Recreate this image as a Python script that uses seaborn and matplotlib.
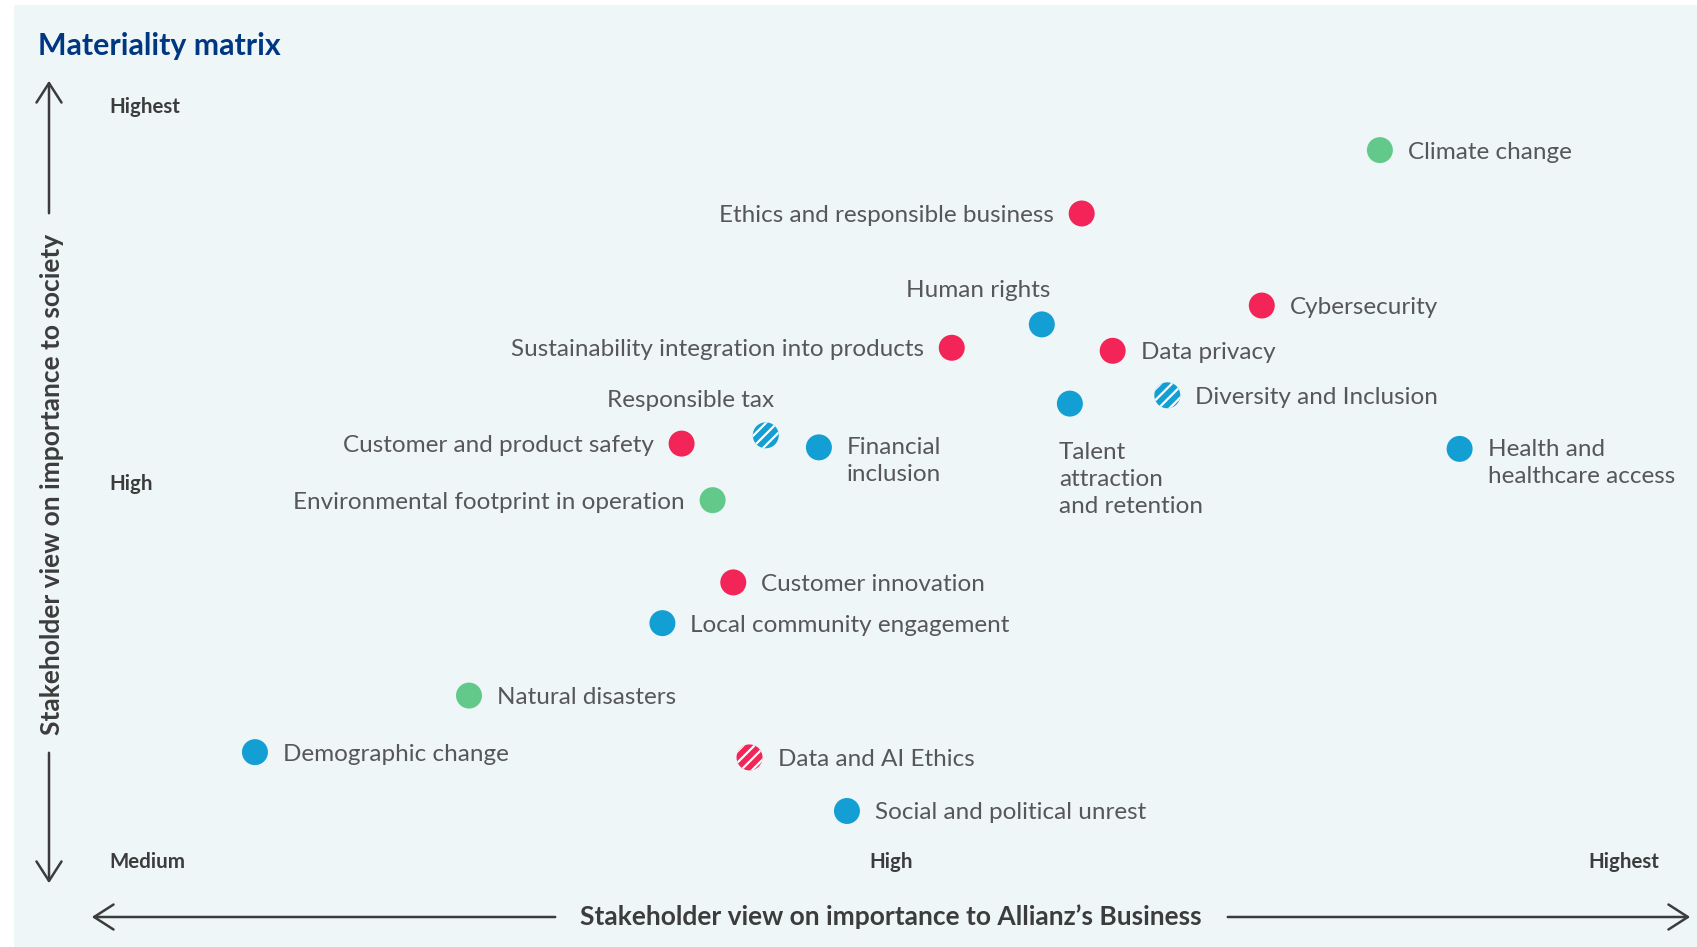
import matplotlib
matplotlib.use("Agg")
import matplotlib.pyplot as plt
import seaborn as sns
import pandas as pd

sns.set_style("white")
plt.rcParams["font.family"] = ["Lato", "DejaVu Sans"]
plt.rcParams["hatch.linewidth"] = 1.6

# scores: 0 = Medium, 5 = High, 10 = Highest
topics = [
    "Climate change", "Ethics and responsible business", "Human rights",
    "Cybersecurity", "Sustainability integration into products", "Data privacy",
    "Diversity and Inclusion", "Talent\nattraction\nand retention", "Responsible tax",
    "Customer and product safety", "Financial\ninclusion", "Health and\nhealthcare access",
    "Environmental footprint in operation", "Customer innovation",
    "Local community engagement", "Natural disasters", "Demographic change",
    "Data and AI Ethics", "Social and political unrest",
]
business = [8.35, 6.33, 6.06, 7.55, 5.45, 6.54, 6.91, 6.25, 4.19, 3.62,
            4.55, 8.89, 3.83, 3.97, 3.49, 2.18, 0.73, 4.08, 4.74]
society = [9.43, 8.59, 7.12, 7.37, 6.81, 6.77, 6.18, 6.07, 5.65, 5.54,
           5.49, 5.47, 4.79, 3.70, 3.16, 2.20, 1.45, 1.38, 0.67]
pillar = ["E", "G", "S", "G", "G", "G", "S", "S", "S", "G",
          "S", "S", "E", "G", "S", "E", "S", "G", "S"]
emerging = [False, False, False, False, False, False, True, False, True, False,
            False, False, False, False, False, False, False, True, False]

level_labels = ["Medium", "High", "Highest"]

colors = {"E": "#62c98b", "G": "#f32558", "S": "#139fd3"}
text_color = "#575757"
dark = "#3c3c3c"

df = pd.DataFrame({"topic": topics, "business": business, "society": society,
                   "pillar": pillar, "emerging": emerging})

# label placement: (dx px, dy px, ha, va)
place = {
    "Ethics and responsible business": (-28, 0, "right", "center_baseline"),
    "Sustainability integration into products": (-28, 0, "right", "center_baseline"),
    "Customer and product safety": (-28, 0, "right", "center_baseline"),
    "Environmental footprint in operation": (-28, 0, "right", "center_baseline"),
    "Human rights": (-64, 36, "center", "center_baseline"),
    "Responsible tax": (-75, 37, "center", "center_baseline"),
    "Talent\nattraction\nand retention": (-11, -38, "left", "top"),
    "Financial\ninclusion": (28, 10, "left", "top"),
    "Health and\nhealthcare access": (28, 10, "left", "top"),
}

W, H = 1697, 947
fig = plt.figure(figsize=(W / 100, H / 100), dpi=100)
fig.patch.set_facecolor("#eef6f8")
# white margin strips on the left and top
fig.patches.append(plt.Rectangle((0, 0), 14 / W, 1, transform=fig.transFigure,
                                 facecolor="white", edgecolor="none", zorder=-5))
fig.patches.append(plt.Rectangle((0, 1 - 5 / H), 1, 5 / H, transform=fig.transFigure,
                                 facecolor="white", edgecolor="none", zorder=-5))

ax = fig.add_axes([0, 0, 1, 1])
ax.set_zorder(2)
ax.patch.set_alpha(0)
# x: 0 -> px 147, 10 -> px 1623 ; y: 0 -> px 861, 10 -> px 107
ax.set_xlim(-0.997, 10.498)
ax.set_ylim(-1.133, 11.42)
ax.axis("off")

solid = df[~df["emerging"]]
sns.scatterplot(data=solid, x="business", y="society", hue="pillar", palette=colors,
                s=350, linewidth=0, legend=False, ax=ax, zorder=3)
hatched = df[df["emerging"]]
for _, r in hatched.iterrows():
    ax.scatter(r["business"], r["society"], s=350, facecolor=colors[r["pillar"]],
               edgecolor="white", linewidth=0, hatch="///", zorder=3)

for _, r in df.iterrows():
    dx, dy, ha, va = place.get(r["topic"], (28, 0, "left", "center_baseline"))
    ax.annotate(r["topic"], (r["business"], r["society"]), xytext=(dx * 0.72, dy * 0.72),
                textcoords="offset points", ha=ha, va=va, fontsize=17.5,
                color=text_color, linespacing=1.36)

# level labels
lab_kw = dict(fontsize=14.8, fontweight="bold", color=dark)
fig.text(109 / W, 1 - 107 / H, level_labels[2], ha="left", va="center", **lab_kw)
fig.text(109 / W, 1 - 484 / H, level_labels[1], ha="left", va="center", **lab_kw)
fig.text(109 / W, 1 - 862 / H, level_labels[0], ha="left", va="center", **lab_kw)
fig.text(891 / W, 1 - 862 / H, level_labels[1], ha="center", va="center", **lab_kw)
fig.text(1624 / W, 1 - 862 / H, level_labels[2], ha="center", va="center", **lab_kw)

fig.text(38 / W, 1 - 46 / H, "Materiality matrix", fontsize=21.8, fontweight="bold",
         color="#003781", ha="left", va="center")

# axis arrows
arr = dict(arrowstyle="->,head_length=0.7,head_width=0.45", color=dark, lw=1.8)
def farrow(x0, y0, x1, y1):
    fig.patches.append(matplotlib.patches.FancyArrowPatch(
        (x0 / W, 1 - y0 / H), (x1 / W, 1 - y1 / H), transform=fig.transFigure,
        mutation_scale=20, **arr))

farrow(49, 216, 49, 78)
farrow(49, 750, 49, 886)
farrow(558, 917, 89, 917)
farrow(1225, 917, 1693, 917)

fig.text(52 / W, 1 - 484 / H, "Stakeholder view on importance to society", rotation=90,
         fontsize=19, fontweight="bold", color=dark, ha="center", va="center")
fig.text(891 / W, 1 - 917 / H, "Stakeholder view on importance to Allianz\u2019s Business",
         fontsize=19, fontweight="bold", color=dark, ha="center", va="center")

fig.savefig("out.png", dpi=100, facecolor=fig.get_facecolor())
